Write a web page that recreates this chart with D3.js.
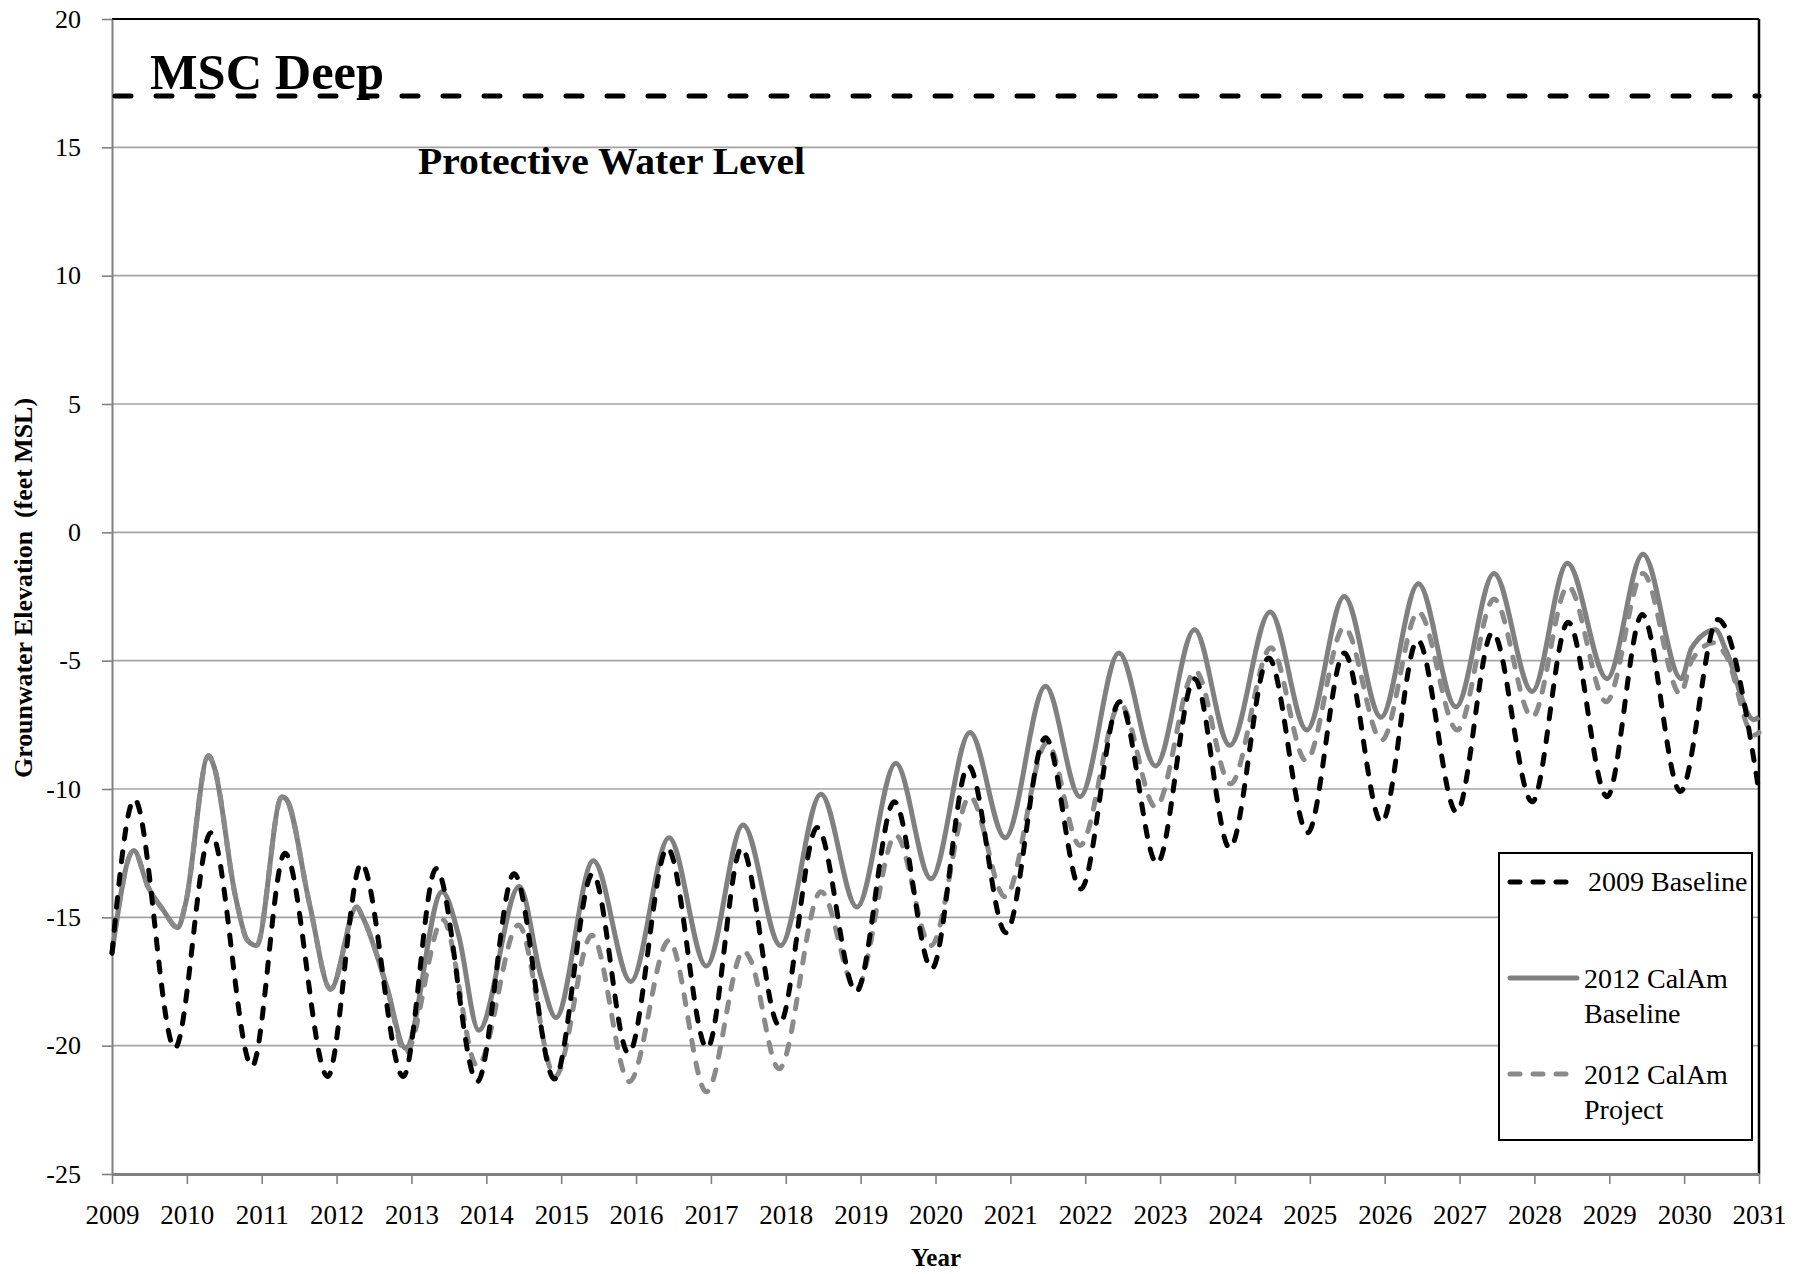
<!DOCTYPE html>
<html>
<head>
<meta charset="utf-8">
<script src="https://cdn.jsdelivr.net/npm/d3@7"></script>
<style>
  body { margin: 0; background: #ffffff; }
  svg { display: block; }
  text { font-family: "Liberation Serif", "Times New Roman", serif; fill: #000; }
</style>
</head>
<body>
<svg id="chart" width="1794" height="1274"></svg>
<script>
// ---------------- DATA ----------------
const yearTicks = d3.range(2009, 2032);
const yTickValues = [-25, -20, -15, -10, -5, 0, 5, 10, 15, 20];
const gridValues = [-20, -15, -10, -5, 0, 5, 10, 15];
const protectiveLevel = 17;

const baseline2009Years = [2009.00, 2009.30, 2009.84, 2010.32, 2010.87, 2011.31, 2011.88, 2012.33, 2012.89, 2013.33,
  2013.88, 2014.37, 2014.91, 2015.42, 2015.90, 2016.42, 2016.95, 2017.41, 2017.91, 2018.42,
  2018.94, 2019.45, 2019.95, 2020.44, 2020.94, 2021.47, 2021.94, 2022.46, 2022.96, 2023.46,
  2023.93, 2024.45, 2024.97, 2025.46, 2025.96, 2026.44, 2026.96, 2027.44, 2027.97, 2028.45,
  2028.97, 2029.44, 2029.95, 2030.45, 2031.00];
const baseline2009Values = [-16.4, -10.4, -20.1, -11.7, -20.8, -12.5, -21.2, -12.9, -21.2, -13.1,
  -21.4, -13.3, -21.3, -13.3, -20.3, -12.3, -20.1, -12.3, -19.2, -11.5,
  -17.9, -10.5, -17.0, -9.1, -15.6, -8.0, -13.9, -6.6, -12.9, -5.7,
  -12.3, -4.9, -11.7, -4.7, -11.3, -4.2, -10.9, -3.9, -10.5, -3.5,
  -10.3, -3.2, -10.1, -3.4, -10.1];

const calAmBaselineYears = [2009.00, 2009.29, 2009.48, 2009.68, 2009.88, 2009.98, 2010.29, 2010.36, 2010.65, 2010.81,
  2010.93, 2011.27, 2011.33, 2011.64, 2011.92, 2012.27, 2012.35, 2012.67, 2012.92, 2013.41,
  2013.63, 2013.90, 2014.44, 2014.73, 2014.93, 2015.43, 2015.93, 2016.44, 2016.94, 2017.43,
  2017.93, 2018.47, 2018.95, 2019.47, 2019.94, 2020.46, 2020.93, 2021.47, 2021.93, 2022.45,
  2022.94, 2023.46, 2023.93, 2024.47, 2024.96, 2025.46, 2025.95, 2026.45, 2026.95, 2027.46,
  2027.97, 2028.44, 2028.97, 2029.45, 2029.96, 2030.10, 2030.42, 2030.56, 2030.93, 2031.00];
const calAmBaselineValues = [-16.4, -12.4, -13.8, -14.7, -15.4, -14.5, -8.7, -9.1, -14.2, -15.9,
  -16.1, -10.3, -10.4, -14.5, -17.8, -14.6, -15.0, -17.7, -20.1, -14.0,
  -15.7, -19.4, -13.8, -17.3, -18.9, -12.8, -17.5, -11.9, -16.9, -11.4,
  -16.1, -10.2, -14.6, -9.0, -13.5, -7.8, -11.9, -6.0, -10.3, -4.7,
  -9.1, -3.8, -8.3, -3.1, -7.7, -2.5, -7.2, -2.0, -6.8, -1.6,
  -6.2, -1.2, -5.7, -0.85, -5.7, -4.5, -3.8, -4.6, -7.3, -7.2];

const calAmProjectYears = [2009.00, 2009.29, 2009.48, 2009.68, 2009.88, 2009.98, 2010.29, 2010.36, 2010.65, 2010.81,
  2010.93, 2011.27, 2011.33, 2011.64, 2011.92, 2012.27, 2012.35, 2012.67, 2012.92, 2013.42,
  2013.88, 2014.43, 2014.92, 2015.41, 2015.91, 2016.44, 2016.94, 2017.44, 2017.52, 2017.91,
  2018.47, 2018.94, 2019.47, 2019.94, 2020.46, 2020.93, 2021.49, 2021.93, 2022.47, 2022.94,
  2023.47, 2023.94, 2024.48, 2024.95, 2025.46, 2025.96, 2026.45, 2026.97, 2027.46, 2027.97,
  2028.45, 2028.96, 2029.45, 2029.95, 2030.10, 2030.40, 2030.56, 2030.93, 2031.00];
const calAmProjectValues = [-16.4, -12.4, -13.8, -14.7, -15.4, -14.5, -8.7, -9.1, -14.2, -15.9,
  -16.1, -10.3, -10.4, -14.5, -17.8, -14.6, -15.0, -17.7, -20.3, -15.1,
  -20.8, -15.3, -21.2, -15.7, -21.4, -15.9, -21.8, -16.3, -16.6, -20.9,
  -14.0, -17.8, -11.8, -16.1, -10.3, -14.2, -8.2, -12.2, -6.7, -10.7,
  -5.4, -9.8, -4.5, -8.9, -3.7, -8.1, -3.1, -7.7, -2.6, -7.2,
  -2.1, -6.6, -1.6, -6.3, -5.0, -4.3, -4.8, -7.9, -7.8];

const seriesNames = ["2009 Baseline", "2012 CalAm Baseline", "2012 CalAm Project"];

// ---------------- CHART ----------------
const svg = d3.select("#chart");
const X0 = 112, X1 = 1759, Y0 = 1174, Y1 = 19;
const x = d3.scaleLinear().domain([2009, 2031]).range([X0, X1]);
const y = d3.scaleLinear().domain([-25, 20]).range([Y0, Y1]);

const GRAY = "#808080";
const GRAY_DASH = "#8a8a8a";

// gridlines
svg.append("g").selectAll("line").data(gridValues).join("line")
  .attr("x1", X0).attr("x2", X1)
  .attr("y1", d => y(d)).attr("y2", d => y(d))
  .attr("stroke", "#a3a3a3").attr("stroke-width", 1.6);

// frame top and right (black)
svg.append("line").attr("x1", X0).attr("x2", X1).attr("y1", y(20)).attr("y2", y(20))
  .attr("stroke", "#000").attr("stroke-width", 2);
svg.append("line").attr("x1", X1).attr("x2", X1).attr("y1", y(20)).attr("y2", y(-25))
  .attr("stroke", "#000").attr("stroke-width", 2.5);

// y axis
const yAxis = svg.append("g").attr("transform", `translate(${X0},0)`)
  .call(d3.axisLeft(y).tickValues(yTickValues).tickFormat(d => String(d))
    .tickSize(10).tickSizeOuter(0).tickPadding(21));
yAxis.select(".domain").attr("stroke", GRAY).attr("stroke-width", 2);
yAxis.selectAll(".tick line").attr("stroke", GRAY).attr("stroke-width", 1.6);
yAxis.selectAll(".tick text").attr("font-size", 26).attr("font-family", "Liberation Serif").attr("fill", "#000");

// x axis
const xAxis = svg.append("g").attr("transform", `translate(0,${Y0})`)
  .call(d3.axisBottom(x).tickValues(yearTicks).tickFormat(d => String(d)).tickSize(10).tickSizeOuter(0));
xAxis.select(".domain").attr("stroke", GRAY).attr("stroke-width", 3);
xAxis.selectAll(".tick line").attr("stroke", GRAY).attr("stroke-width", 1.6);
xAxis.selectAll(".tick text").attr("font-size", 27).attr("font-family", "Liberation Serif")
  .attr("fill", "#000").attr("y", 50).attr("dy", 0);

// protective water level line
svg.append("line").attr("x1", X0 + 3).attr("x2", X1)
  .attr("y1", y(protectiveLevel)).attr("y2", y(protectiveLevel))
  .attr("stroke", "#000").attr("stroke-width", 5)
  .attr("stroke-dasharray", "16,25").attr("stroke-linecap", "round");

// series
const line = d3.line().x(d => x(d[0])).y(d => y(d[1])).curve(d3.curveMonotoneX);

svg.append("path").datum(d3.zip(calAmBaselineYears, calAmBaselineValues))
  .attr("d", line).attr("fill", "none").attr("stroke", GRAY).attr("stroke-width", 5)
  .attr("stroke-linejoin", "round");
svg.append("path").datum(d3.zip(calAmProjectYears, calAmProjectValues))
  .attr("d", line).attr("fill", "none").attr("stroke", GRAY_DASH).attr("stroke-width", 5)
  .attr("stroke-dasharray", "10,13").attr("stroke-linecap", "round");
svg.append("path").datum(d3.zip(baseline2009Years, baseline2009Values))
  .attr("d", line).attr("fill", "none").attr("stroke", "#000").attr("stroke-width", 5)
  .attr("stroke-dasharray", "10,13").attr("stroke-linecap", "round");

// annotations
svg.append("text").attr("x", 150).attr("y", 89).attr("font-size", 50).attr("font-weight", "bold")
  .attr("textLength", 234).attr("lengthAdjust", "spacingAndGlyphs").text("MSC Deep");
svg.append("text").attr("x", 418).attr("y", 174).attr("font-size", 38).attr("font-weight", "bold")
  .attr("textLength", 387).attr("lengthAdjust", "spacingAndGlyphs").text("Protective Water Level");

// axis titles
svg.append("text").attr("transform", "translate(32,588) rotate(-90)")
  .attr("text-anchor", "middle").attr("font-size", 25).attr("font-weight", "bold")
  .attr("textLength", 380).attr("lengthAdjust", "spacingAndGlyphs")
  .style("white-space", "pre").text("Grounwater Elevation  (feet MSL)");
svg.append("text").attr("x", 936).attr("y", 1266).attr("text-anchor", "middle")
  .attr("font-size", 25).attr("font-weight", "bold").text("Year");

// legend
const lg = svg.append("g");
lg.append("rect").attr("x", 1499).attr("y", 853).attr("width", 253).attr("height", 287)
  .attr("fill", "#fff").attr("stroke", "#000").attr("stroke-width", 2);
const legendItems = [
  { lines: ["2009 Baseline"], color: "#000", dash: "10,13", sy: 882, ty: [891], tx: 1588 },
  { lines: ["2012 CalAm", "Baseline"], color: GRAY, dash: null, sy: 978, ty: [988, 1023], tx: 1584 },
  { lines: ["2012 CalAm", "Project"], color: GRAY_DASH, dash: "10,13", sy: 1074, ty: [1084, 1119], tx: 1584 }
];
legendItems.forEach(it => {
  const l = lg.append("line").attr("x1", 1510).attr("x2", it.dash ? 1570 : 1577)
    .attr("y1", it.sy).attr("y2", it.sy).attr("stroke", it.color).attr("stroke-width", 5)
    .attr("stroke-linecap", "round");
  if (it.dash) l.attr("stroke-dasharray", it.dash);
  it.lines.forEach((t, i) => {
    lg.append("text").attr("x", it.tx).attr("y", it.ty[i]).attr("font-size", 28).text(t);
  });
});
</script>
</body>
</html>
